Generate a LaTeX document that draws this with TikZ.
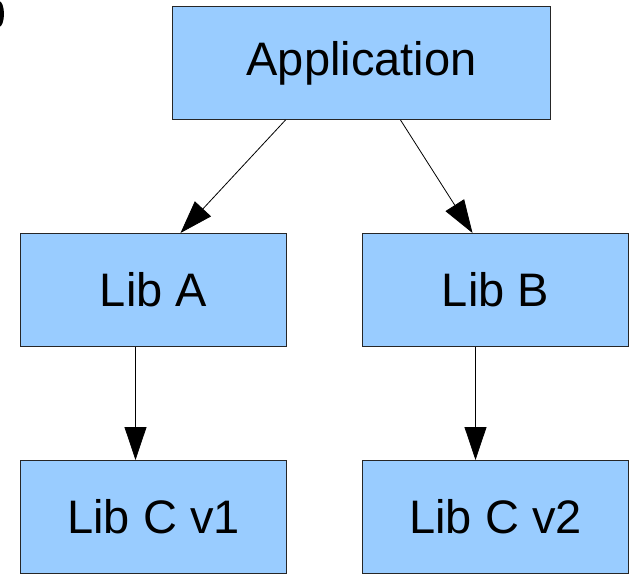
\documentclass[tikz,border=0pt]{standalone}
\usepackage{fontspec}
\setmainfont{Liberation Sans}
\usetikzlibrary{arrows.meta}
\begin{document}
\begin{tikzpicture}[x=1pt,y=-1pt,
  box/.style={draw=black!85, line width=1pt, fill={rgb,255:red,153;green,204;blue,255},
    minimum width=266pt, minimum height=113pt, inner sep=0pt, anchor=north west,
    font=\fontsize{47}{50}\selectfont},
  link/.style={line width=0.8pt, -{Triangle[length=33pt,width=22pt]}}]
\useasboundingbox (0,0) rectangle (629,575);
% small dark mark cut by the left edge
\fill[black] (-1,14) ellipse [x radius=5, y radius=13];
\node[box, minimum width=378pt] (app) at (172,6) {Application};
\node[box] (liba) at (20,233) {Lib A};
\node[box] (libb) at (362,233) {Lib B};
\node[box] (libc1) at (20,460) {Lib C v1};
\node[box] (libc2) at (362,460) {Lib C v2};
\draw[link] ([xshift=-76pt]app.south) -- ([xshift=27pt]liba.north);
\draw[link] ([xshift=39pt]app.south) -- ([xshift=-23pt]libb.north);
\draw[link] ([xshift=-18pt]liba.south) -- ([xshift=-18pt]libc1.north);
\draw[link] ([xshift=-20pt]libb.south) -- ([xshift=-20pt]libc2.north);
\end{tikzpicture}
\end{document}
